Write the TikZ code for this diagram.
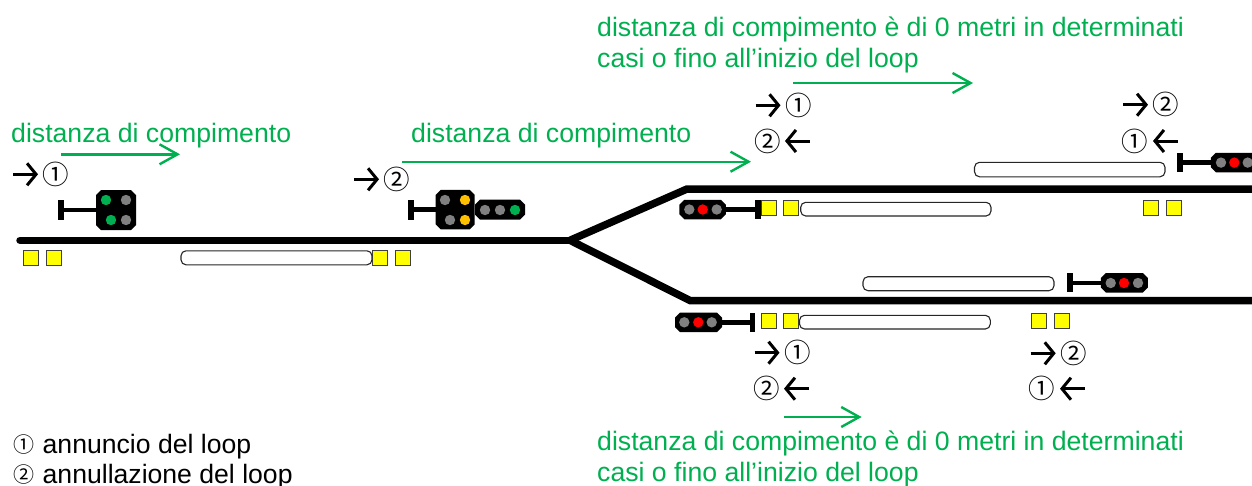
\documentclass[tikz,border=0pt]{standalone}
\usepackage{fontspec}
\setmainfont{Liberation Sans}
\newfontfamily\cjkfont{Noto Sans CJK JP}
\usetikzlibrary{arrows.meta}
\definecolor{grn}{HTML}{00B050}
\definecolor{amb}{HTML}{FFC000}
\definecolor{gry}{HTML}{808080}
\definecolor{rd}{HTML}{FF0000}
\definecolor{yel}{HTML}{FFFF00}
\tikzset{
  track/.style={line width=7.5pt,black,line join=miter},
  sq/.style={draw=black!75,line width=0.8pt,fill=yel,minimum size=15pt,inner sep=0pt,outer sep=0pt},
  pill/.style={draw=black!85,line width=1.1pt,fill=white,rounded corners=5pt,inner sep=0pt,outer sep=0pt},
  head/.style={inner sep=0pt,outer sep=0pt},
  barpost/.style={fill=black,minimum width=5.5pt,minimum height=19pt,inner sep=0pt,outer sep=0pt},
  stem/.style={line width=4.5pt,black},
  lamp/.style={circle,minimum size=10.4pt,inner sep=0pt,outer sep=0pt},
  blackarrow/.style={line width=3pt,black,-{Straight Barb[length=9pt,width=22pt,line width=3pt]}},
  greenarrow/.style={line width=2.4pt,grn,-{Straight Barb[length=18pt,width=20pt,line width=2.4pt]}},
  greentext/.style={text=grn,font=\fontsize{26.65}{30}\selectfont,anchor=base west,inner sep=0pt},
  legendtext/.style={text=black,font=\fontsize{26.6}{30}\selectfont,anchor=base west,inner sep=0pt},
  num/.style={font=\cjkfont\fontsize{26.5}{26.5}\selectfont,inner sep=0pt,anchor=center},
  legnum/.style={font=\cjkfont\fontsize{21}{21}\selectfont,inner sep=0pt,anchor=center}
}
\newcommand{\ysq}[3]{\node[sq] (#1) at (#2,#3) {};}
\newcommand{\pil}[5]{\node[pill,minimum width=#4pt-#2pt,minimum height=#5pt-#3pt] (#1) at ({(#2+#4)/2},{(#3+#5)/2}) {};}
\newcommand{\lmp}[4]{\node[lamp,fill=#4] (#1) at (#2,#3) {};}
% head: name, cx, cy, width, height (octagonal housing)
\newcommand{\hd}[5]{%
  \node[head,minimum width=#4pt,minimum height=#5pt] (#1) at (#2,#3) {};
  \fill[black] ([xshift=5pt]#1.north west) -- ([xshift=-5pt]#1.north east)
    -- ([yshift=-5pt]#1.north east) -- ([yshift=5pt]#1.south east)
    -- ([xshift=-5pt]#1.south east) -- ([xshift=5pt]#1.south west)
    -- ([yshift=5pt]#1.south west) -- ([yshift=-5pt]#1.north west) -- cycle;}
\begin{document}
\begin{tikzpicture}[x=1pt,y=-1pt]
\useasboundingbox (0,0) rectangle (1252,485);
\clip (0,0) rectangle (1252,485);

% tracks
\coordinate (mainstart) at (20,240.3);
\coordinate (fork) at (570,240.3);
\coordinate (upbend) at (687,189);
\coordinate (upend) at (1253,189);
\coordinate (lowbend) at (690,300.5);
\coordinate (lowend) at (1253,300.5);
\draw[track,line cap=round] (mainstart) -- ++(5,0);
\draw[track] (mainstart) -- (fork);
\draw[track] (fork) -- (upbend) -- (upend);
\draw[track] (fork) -- (lowbend) -- (lowend);

% yellow squares
\ysq{y1}{30.8}{257.7}\ysq{y2}{53.5}{257.7}
\ysq{y3}{380}{257.7}\ysq{y4}{403}{257.7}
\ysq{y5}{768.7}{208.3}\ysq{y6}{791}{208.3}
\ysq{y7}{1151}{208}\ysq{y8}{1173.7}{208}
\ysq{y9}{768.7}{321.3}\ysq{y10}{791}{321.3}
\ysq{y11}{1039.3}{320.7}\ysq{y12}{1062}{320.7}

% long boxes
\pil{p1}{181}{250.8}{372}{264.8}
\pil{p2}{800.7}{202.3}{991}{216}
\pil{p3}{974.5}{162.3}{1165}{176.8}
\pil{p4}{863}{276.7}{1054}{290.7}
\pil{p5}{799.5}{315.3}{990.3}{329}

% signal 1
\node[barpost,minimum height=20pt] (b1) at (61,210) {};
\hd{h1}{116}{210}{40}{40}
\draw[stem] (b1) -- (h1.west);
\lmp{l1a}{106}{200}{grn}\lmp{l1b}{126}{200}{gry}\lmp{l1c}{111}{220}{grn}\lmp{l1d}{126}{220}{gry}

% signal 2
\node[barpost,minimum height=20pt] (b2) at (410.8,209.7) {};
\hd{h2}{455.2}{209.7}{39}{39.5}
\hd{h2b}{500}{209.7}{50}{20}
\draw[stem] (b2) -- (h2.west);
\lmp{l2a}{445}{200}{gry}\lmp{l2b}{465}{200}{amb}\lmp{l2c}{450}{220}{gry}\lmp{l2d}{465}{220}{amb}
\lmp{l2e}{485}{210}{gry}\lmp{l2f}{500}{210}{gry}\lmp{l2g}{515}{210}{grn}

% signal 3
\node[barpost] (b3) at (757.8,209.5) {};
\hd{h3}{702.7}{209.5}{46.5}{19.5}
\draw[stem] (h3.east) -- (b3);
\lmp{l3a}{689.3}{209.5}{gry}\lmp{l3b}{702.7}{209.5}{rd}\lmp{l3c}{716.7}{209.5}{gry}

% signal 4
\node[barpost] (b4) at (1180.2,162.5) {};
\hd{h4}{1234.2}{162.5}{46.5}{19.5}
\draw[stem] (b4) -- (h4.west);
\lmp{l4a}{1221}{162.6}{gry}\lmp{l4b}{1234.3}{162.6}{rd}\lmp{l4c}{1247.7}{162.6}{gry}

% signal 5
\node[barpost] (b5) at (1070.2,282.8) {};
\hd{h5}{1124.3}{282.8}{47}{19.5}
\draw[stem] (b5) -- (h5.west);
\lmp{l5a}{1110.7}{283}{gry}\lmp{l5b}{1124}{283}{rd}\lmp{l5c}{1138}{283}{gry}

% signal 6
\node[barpost] (b6) at (752.7,322.4) {};
\hd{h6}{698.5}{322.4}{47}{19.5}
\draw[stem] (h6.east) -- (b6);
\lmp{l6a}{684.3}{322.3}{gry}\lmp{l6b}{698.3}{322.3}{rd}\lmp{l6c}{711.7}{322.3}{gry}

% green texts
\node[greentext] (t1) at (11,142) {distanza di compimento};
\node[greentext] (t2) at (411,142) {distanza di compimento};
\node[greentext] (t3) at (597,36.5) {distanza di compimento è di 0 metri in determinati};
\node[greentext] (t4) at (597,67) {casi o fino all’inizio del loop};
\node[greentext] (t5) at (597,450) {distanza di compimento è di 0 metri in determinati};
\node[greentext] (t6) at (597,481) {casi o fino all’inizio del loop};

% green arrows
\coordinate (g1a) at (61,154.3); \coordinate (g1b) at (180,154.3);
\coordinate (g2a) at (402,161.7); \coordinate (g2b) at (751,161.7);
\coordinate (g3a) at (793,83); \coordinate (g3b) at (973,83);
\coordinate (g4a) at (784.3,417); \coordinate (g4b) at (861.7,417);
\draw[greenarrow] (g1a) -- (g1b);
\draw[greenarrow] (g2a) -- (g2b);
\draw[greenarrow] (g3a) -- (g3b);
\draw[greenarrow] (g4a) -- (g4b);

% black arrows
\coordinate (a1a) at (13,174.3); \coordinate (a1b) at (38,174.3);
\coordinate (a2a) at (354,179.3); \coordinate (a2b) at (379,179.3);
\coordinate (a3a) at (755.7,105.3); \coordinate (a3b) at (780.5,105.3);
\coordinate (a4a) at (810,141); \coordinate (a4b) at (785,141);
\coordinate (a5a) at (1123.3,104.7); \coordinate (a5b) at (1148,104.7);
\coordinate (a6a) at (1177.7,141); \coordinate (a6b) at (1153,141);
\coordinate (a7a) at (754.7,352.7); \coordinate (a7b) at (779.5,352.7);
\coordinate (a8a) at (809,388.7); \coordinate (a8b) at (784,388.7);
\coordinate (a9a) at (1030.7,353.3); \coordinate (a9b) at (1055.7,353.3);
\coordinate (a10a) at (1085,388.7); \coordinate (a10b) at (1060,388.7);
\foreach \i in {1,...,10} {\draw[blackarrow] (a\i a) -- (a\i b);}

% circled numbers
\node[num] (n1) at (56,174.3) {①};
\node[num] (n2) at (396.7,179.3) {②};
\node[num] (n3) at (798.7,105.3) {①};
\node[num] (n4) at (767.3,141) {②};
\node[num] (n5) at (1166,104.7) {②};
\node[num] (n6) at (1134.3,141) {①};
\node[num] (n7) at (797.7,352.7) {①};
\node[num] (n8) at (766.3,388.7) {②};
\node[num] (n9) at (1073.3,353.3) {②};
\node[num] (n10) at (1042,388.7) {①};

% legend
\node[legnum] (k1) at (23.5,445) {①};
\node[legendtext] (k1t) at (42.5,453) {annuncio del loop};
\node[legnum] (k2) at (23.5,475) {②};
\node[legendtext] (k2t) at (42.5,483) {annullazione del loop};
\end{tikzpicture}
\end{document}
